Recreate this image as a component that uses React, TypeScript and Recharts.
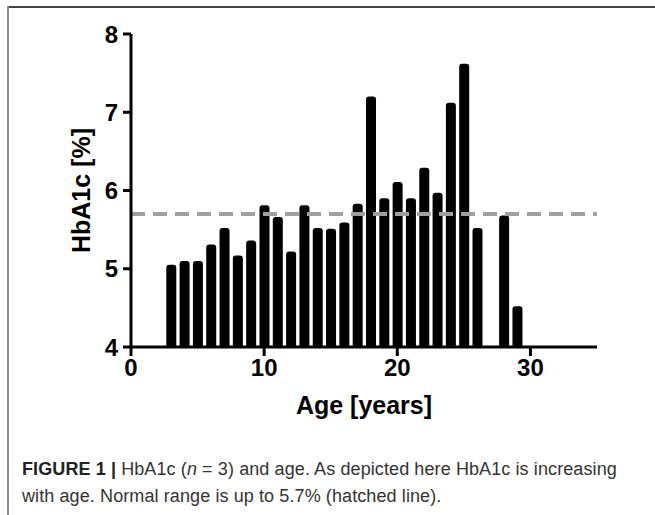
import { Bar, BarChart, ReferenceLine, XAxis, YAxis } from "recharts";

const ages = [3, 4, 5, 6, 7, 8, 9, 10, 11, 12, 13, 14, 15, 16, 17, 18, 19, 20, 21, 22, 23, 24, 25, 26, 28, 29];
const hba1c = [5.05, 5.1, 5.1, 5.31, 5.52, 5.17, 5.36, 5.81, 5.66, 5.22, 5.81, 5.52, 5.51, 5.59, 5.83, 7.2, 5.9, 6.11, 5.9, 6.29, 5.97, 7.12, 7.62, 5.52, 5.68, 4.52];
const xTicks = [0, 10, 20, 30];
const yTicks = [4, 5, 6, 7, 8];
const normalLimit = 5.7;

const data = ages.map((age, i) => ({ age, value: hba1c[i] }));

const font = "'Liberation Sans', Arial, sans-serif";
const tickStyle = { fill: "#000", fontSize: 24, fontWeight: 700, fontFamily: font };
const labelStyle = { fill: "#000", fontSize: 25, fontWeight: 700, fontFamily: font };

const App = () => {
    return (
        <div style={{ position: 'absolute', left: 0, top: 0, width: 655, height: 515, background: '#fff', overflow: 'hidden' }}>
            <div style={{ position: 'absolute', left: 8, top: 6, width: 647, height: 1.5, background: '#444' }} />
            <div style={{ position: 'absolute', left: 7, top: 6, width: 1.5, height: 509, background: '#8a8a8a' }} />
            <div style={{ position: 'absolute', left: 0, top: 0 }}>
                <BarChart width={655} height={430} data={data} margin={{ top: 34, right: 58, bottom: 0, left: 0 }}>
                    <XAxis
                        dataKey="age"
                        type="number"
                        domain={[0, 35]}
                        ticks={xTicks}
                        height={83}
                        stroke="#000"
                        strokeWidth={3}
                        tickSize={9}
                        tickMargin={3}
                        tick={tickStyle}
                        label={{ value: 'Age [years]', position: 'center', dy: 17, style: labelStyle }}
                    />
                    <YAxis
                        type="number"
                        domain={[4, 8]}
                        ticks={yTicks}
                        width={131}
                        stroke="#000"
                        strokeWidth={3}
                        tickSize={8}
                        tickMargin={5}
                        tick={tickStyle}
                        label={{ value: 'HbA1c [%]', angle: -90, position: 'center', dx: 16, style: labelStyle }}
                    />
                    <Bar dataKey="value" fill="#000" barSize={10} radius={[3, 3, 0, 0]} isAnimationActive={false} />
                    <ReferenceLine y={normalLimit} stroke="#a0a0a0" strokeWidth={4} strokeDasharray="14 8" />
                </BarChart>
            </div>
            <div style={{ position: 'absolute', left: 22, top: 456, width: 630, fontFamily: font, fontSize: 18, lineHeight: '27px', color: '#333', letterSpacing: 0.1, whiteSpace: 'nowrap' }}>
                <div><b style={{ color: '#222' }}>FIGURE 1 |</b> HbA1c (<i>n</i> = 3) and age. As depicted here HbA1c is increasing</div>
                <div>with age. Normal range is up to 5.7% (hatched line).</div>
            </div>
        </div>
    );
};

export default App;
